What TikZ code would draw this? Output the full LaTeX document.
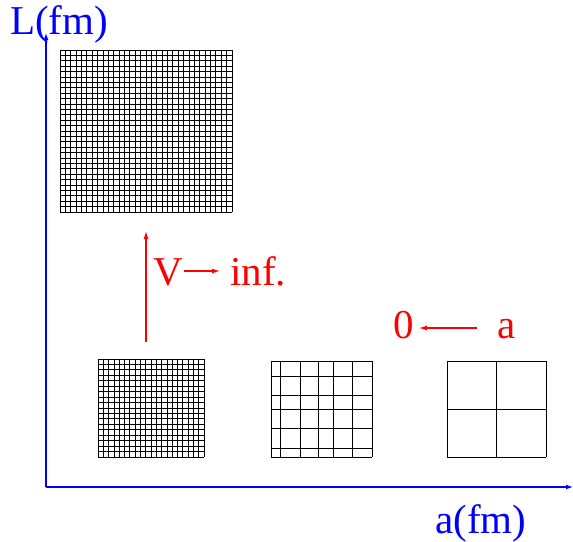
\documentclass[tikz,border=0pt]{standalone}
\usepackage{fontspec}
\setmainfont{Liberation Serif}
\newfontfamily\timesfont{Liberation Serif}
\usetikzlibrary{arrows.meta,calc}
\newcommand{\lattice}[6]{% x0, y0, width, height, nx, ny
  \foreach \i in {0,...,#5} \draw[gridline] ({#1+\i*#3/#5},#2) -- ++(0,#4);
  \foreach \j in {0,...,#6} \draw[gridline] (#1,{#2+\j*#4/#6}) -- ++(#3,0);}

\begin{document}
\begin{tikzpicture}[x=1pt,y=-1pt,
  gridline/.style={line width=0.8pt},
  axis/.style={blue, line width=1.3pt, -{Latex[length=7pt,width=5pt]}},
  redarrow/.style={red, line width=1.2pt, -{Latex[length=8pt,width=5pt]}},
  lbl/.style={inner sep=0pt, anchor=base west, font=\timesfont\fontsize{41}{48}\selectfont}]
\useasboundingbox (0,0) rectangle (573,541);
% axes
\coordinate (O) at (46,487);
\coordinate (Ltop) at (46,33);
\coordinate (aend) at (573,487);
\draw[axis] (O) -- (Ltop);
\draw[axis] (O) -- (aend);
\node[lbl, blue] (Llab) at (10,34) {L(fm)};
\node[lbl, blue] (alab) at (435,533) {a(fm)};
% lattices
\lattice{60}{50}{172}{162}{32}{30}
\lattice{98}{359}{106}{98}{20}{18}
\foreach \x in {271,280,300,318,333,352,372} \draw[gridline] (\x,361) -- (\x,457);
\foreach \y in {361,376,395,409,428,448,457} \draw[gridline] (271,\y) -- (372,\y);
\lattice{447}{361}{99}{96}{2}{2}
% limits
\coordinate (vbot) at (146,342);
\coordinate (vtop) at (146,231);
\draw[redarrow] (vbot) -- (vtop);
\node[lbl, red] (V) at (153,285) {V};
\node[lbl, red] (inf) at (230,285) {inf.};
\draw[redarrow] ($(V.base east)+(1,-14)$) -- ($(inf.base west)+(-10,-14)$);
\node[lbl, red] (zero) at (393,338) {0};
\node[lbl, red] (a) at (497,338) {a};
\draw[redarrow] ($(a.base west)+(-20,-10)$) -- ($(zero.base east)+(5,-10)$);
\end{tikzpicture}
\end{document}
